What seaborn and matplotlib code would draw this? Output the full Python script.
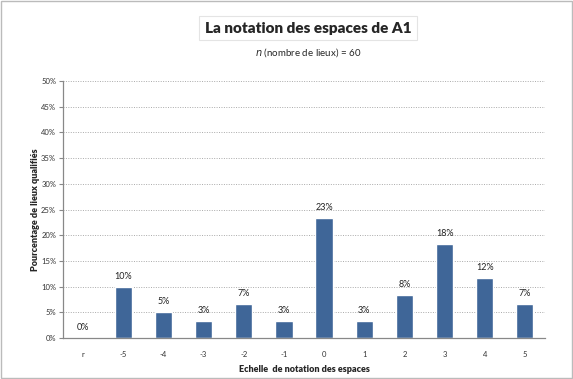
import numpy as np
import pandas as pd
import seaborn as sns
import matplotlib.pyplot as plt
from matplotlib.patches import Rectangle

categories = ["r", "-5", "-4", "-3", "-2", "-1", "0", "1", "2", "3", "4", "5"]
counts = [0, 6, 3, 2, 4, 2, 14, 2, 5, 11, 7, 4]
n_lieux = 60
pct = [100 * c / n_lieux for c in counts]

data = pd.DataFrame({"note": categories, "pct": pct})

sns.set_theme(style="white")
plt.rcParams["font.family"] = ["Lato", "DejaVu Sans"]

fig = plt.figure(figsize=(5.73, 3.79), dpi=100)
ax = fig.add_axes([0.110, 0.108, 0.841, 0.678])

sns.barplot(data=data, x="note", y="pct", color="#3F6698", width=0.43,
            saturation=1, ax=ax)

ax.set_ylim(0, 50)
ax.set_xlim(-0.5, 11.5)
ax.set_yticks(np.arange(0, 51, 5))
ax.set_yticklabels([f"{v}%" for v in range(0, 51, 5)], fontsize=5.5, color="#333333")
ax.set_xticks(range(len(categories)))
ax.set_xticklabels(categories, fontsize=5.5, color="#333333")
ax.set_xticks(np.arange(-0.5, 12, 1), minor=True)
ax.tick_params(axis="x", which="major", length=0, pad=9)
ax.tick_params(axis="x", which="minor", length=3, color="#888888", width=0.8, direction="out")
ax.tick_params(axis="y", length=3, color="#888888", width=0.8, direction="out", left=True, pad=2)

ax.yaxis.grid(True, linestyle=(0, (1, 1.5)), color="#AAAAAA", linewidth=0.7)
ax.set_axisbelow(True)
for side in ["top", "right"]:
    ax.spines[side].set_visible(False)
for side in ["left", "bottom"]:
    ax.spines[side].set_color("#888888")
    ax.spines[side].set_linewidth(0.9)

for i, v in enumerate(pct):
    ax.text(i, v + 1.2, f"{v:.0f}%", ha="center", va="bottom", fontsize=6.5, color="#222222")

ax.set_xlabel("Echelle  de notation des espaces", fontsize=6.5, fontweight="heavy", labelpad=5)
ax.set_ylabel("Pourcentage de lieux qualifiés", fontsize=6.5, fontweight="heavy", labelpad=1)

fig.text(0.538, 0.925, "La notation des espaces de A1", ha="center", va="center",
         fontsize=11, fontweight="heavy",
         bbox=dict(facecolor="white", edgecolor="#E4E4E4", linewidth=0.8, pad=4))
fig.text(0.538, 0.862, "$n$ (nombre de lieux) = 60", ha="center", va="center", fontsize=7)

fig.patches.append(Rectangle((0.002, 0.002), 0.996, 0.996, transform=fig.transFigure,
                             fill=False, edgecolor="#BBBBBB", linewidth=1))

fig.savefig("out.png", dpi=100)
